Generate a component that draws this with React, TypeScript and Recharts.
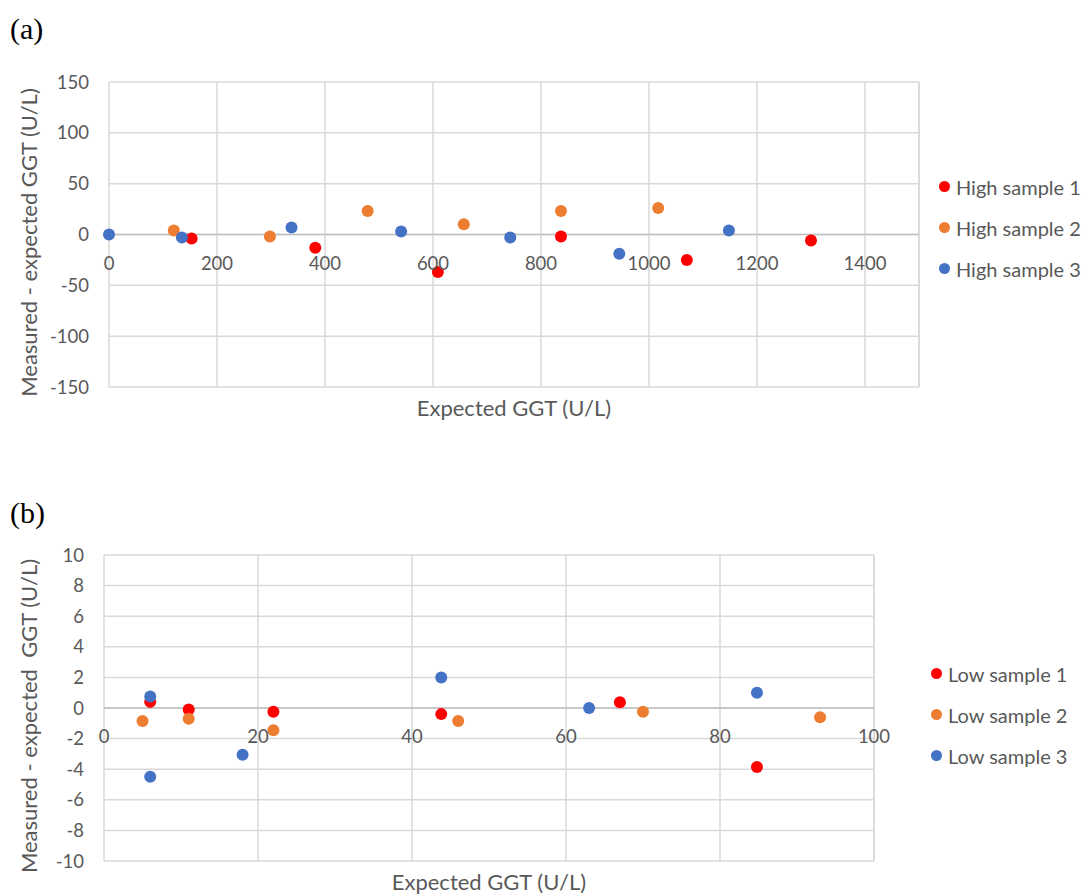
import React from "react";
import {
  CartesianGrid,
  Label,
  ReferenceLine,
  Scatter,
  ScatterChart,
  XAxis,
  YAxis,
} from "recharts";

// expected GGT (x) and measured - expected (y), high range
const HIGH1_X = [153, 382, 609, 837, 1070, 1300];
const HIGH1_Y = [-4, -13, -37, -2, -25, -6];
const HIGH2_X = [120, 298, 479, 657, 837, 1017];
const HIGH2_Y = [4, -2, 23, 10, 23, 26];
const HIGH3_X = [0, 135, 338, 541, 743, 945, 1148];
const HIGH3_Y = [0, -3, 7, 3, -3, -19, 4];

// low range
const LOW1_X = [6, 11, 22, 43.8, 67, 84.8];
const LOW1_Y = [0.4, -0.1, -0.25, -0.4, 0.37, -3.85];
const LOW2_X = [5, 11, 22, 46, 70, 93];
const LOW2_Y = [-0.85, -0.7, -1.45, -0.85, -0.25, -0.6];
const LOW3_X = [6, 6, 18, 43.8, 63, 84.8];
const LOW3_Y = [0.75, -4.5, -3.05, 2.0, 0, 1.0];

const HIGH_X_TICKS = [0, 200, 400, 600, 800, 1000, 1200, 1400];
const HIGH_Y_TICKS = [-150, -100, -50, 0, 50, 100, 150];
const LOW_X_TICKS = [0, 20, 40, 60, 80, 100];
const LOW_Y_TICKS = [-10, -8, -6, -4, -2, 0, 2, 4, 6, 8, 10];

const RED = "#FF0000";
const ORANGE = "#ED7D31";
const BLUE = "#4472C4";
const GRID = "#D9D9D9";
const ZERO_LINE = "#BFBFBF";
const TEXT = "#595959";
const FONT = "Lato, 'Open Sans', sans-serif";

const toPoints = (xs: number[], ys: number[]) => xs.map((x, i) => ({ x, y: ys[i] }));

const dot = (color: string) => (props: any) =>
  <circle cx={props.cx} cy={props.cy} r={6} fill={color} />;

interface SeriesDef {
  name: string;
  color: string;
  data: { x: number; y: number }[];
}

interface PanelProps {
  top: number;
  height: number;
  marginTop: number;
  axisLeft: number;
  marginRight: number;
  xAxisHeight: number;
  xDomain: [number, number];
  yDomain: [number, number];
  xTicks: number[];
  yTicks: number[];
  yTitle: string;
  series: SeriesDef[];
  legendX: number;
  legendY: number;
}

function Panel(p: PanelProps) {
  const plotHeight = p.height - p.marginTop - p.xAxisHeight;
  // distance from plot bottom up to the y=0 line, where Excel puts the x labels
  const zeroShift = (plotHeight * (0 - p.yDomain[0])) / (p.yDomain[1] - p.yDomain[0]);

  const XTick = ({ x, y, payload }: any) => (
    <text
      x={x}
      y={y - zeroShift + 28}
      textAnchor="middle"
      dominantBaseline="central"
      fill={TEXT}
      fontSize={18.5}
      fontFamily={FONT}
    >
      {payload.value}
    </text>
  );

  const XTitle = ({ viewBox }: any) => (
    <text
      x={viewBox.x + viewBox.width / 2}
      y={viewBox.y + 20}
      textAnchor="middle"
      dominantBaseline="central"
      fill={TEXT}
      fontSize={22}
      fontFamily={FONT}
    >
      Expected GGT (U/L)
    </text>
  );

  const YTitle = ({ viewBox }: any) => {
    const cx = viewBox.x + 28;
    const cy = viewBox.y + viewBox.height / 2 + 8;
    return (
      <text
        x={cx}
        y={cy}
        transform={`rotate(-90 ${cx} ${cy})`}
        textAnchor="middle"
        dominantBaseline="central"
        fill={TEXT}
        fontSize={22}
        fontFamily={FONT}
        style={{ whiteSpace: "pre" }}
      >
        {p.yTitle}
      </text>
    );
  };

  return (
    <div style={{ position: "absolute", left: 0, top: p.top, width: 1088, height: p.height }}>
      <ScatterChart
        width={1088}
        height={p.height}
        margin={{ top: p.marginTop, right: p.marginRight, left: 0, bottom: 0 }}
      >
        <CartesianGrid stroke={GRID} strokeWidth={1.5} />
        <XAxis
          type="number"
          dataKey="x"
          domain={p.xDomain}
          ticks={p.xTicks}
          height={p.xAxisHeight}
          axisLine={false}
          tickLine={false}
          tickSize={0}
          tickMargin={0}
          tick={<XTick />}
          interval={0}
        >
          <Label content={<XTitle />} />
        </XAxis>
        <YAxis
          type="number"
          dataKey="y"
          domain={p.yDomain}
          ticks={p.yTicks}
          width={p.axisLeft}
          axisLine={false}
          tickLine={false}
          tickSize={0}
          tickMargin={20}
          interval={0}
          tick={{ fill: TEXT, fontSize: 18.5, fontFamily: FONT }}
        >
          <Label content={<YTitle />} />
        </YAxis>
        <ReferenceLine x={p.xDomain[1]} stroke={GRID} strokeWidth={1.5} />
        <ReferenceLine y={0} stroke={ZERO_LINE} strokeWidth={1.5} />
        {p.series.map((s) => (
          <Scatter
            key={s.name}
            name={s.name}
            data={s.data}
            fill={s.color}
            shape={dot(s.color)}
            isAnimationActive={false}
          />
        ))}
      </ScatterChart>
      <div style={{ position: "absolute", left: p.legendX, top: p.legendY }}>
        {p.series.map((s) => (
          <div
            key={s.name}
            style={{
              display: "flex",
              alignItems: "center",
              height: 41,
              fontFamily: FONT,
              fontSize: 20,
              color: TEXT,
              whiteSpace: "nowrap",
            }}
          >
            <span
              style={{
                width: 11,
                height: 11,
                borderRadius: "50%",
                background: s.color,
                marginRight: 6,
                display: "inline-block",
              }}
            />
            {s.name}
          </div>
        ))}
      </div>
    </div>
  );
}

const panelLabel: React.CSSProperties = {
  position: "absolute",
  left: 10,
  fontFamily: "'Liberation Serif', 'Times New Roman', serif",
  fontSize: 30,
  lineHeight: 1,
  color: "#000",
};

export default function App() {
  return (
    <div
      style={{
        position: "absolute",
        left: 0,
        top: 0,
        width: 1088,
        height: 894,
        background: "#fff",
        overflow: "hidden",
      }}
    >
      <div style={{ ...panelLabel, top: 14 }}>(a)</div>
      <Panel
        top={60}
        height={370}
        marginTop={22}
        axisLeft={109}
        marginRight={169}
        xAxisHeight={43}
        xDomain={[0, 1500]}
        yDomain={[-150, 150]}
        xTicks={HIGH_X_TICKS}
        yTicks={HIGH_Y_TICKS}
        yTitle="Measured - expected GGT (U/L)"
        series={[
          { name: "High sample 1", color: RED, data: toPoints(HIGH1_X, HIGH1_Y) },
          { name: "High sample 2", color: ORANGE, data: toPoints(HIGH2_X, HIGH2_Y) },
          { name: "High sample 3", color: BLUE, data: toPoints(HIGH3_X, HIGH3_Y) },
        ]}
        legendX={939}
        legendY={106}
      />
      <div style={{ ...panelLabel, top: 498 }}>(b)</div>
      <Panel
        top={533}
        height={361}
        marginTop={22}
        axisLeft={104}
        marginRight={214}
        xAxisHeight={33}
        xDomain={[0, 100]}
        yDomain={[-10, 10]}
        xTicks={LOW_X_TICKS}
        yTicks={LOW_Y_TICKS}
        yTitle="Measured - expected  GGT (U/L)"
        series={[
          { name: "Low sample 1", color: RED, data: toPoints(LOW1_X, LOW1_Y) },
          { name: "Low sample 2", color: ORANGE, data: toPoints(LOW2_X, LOW2_Y) },
          { name: "Low sample 3", color: BLUE, data: toPoints(LOW3_X, LOW3_Y) },
        ]}
        legendX={931}
        legendY={120}
      />
    </div>
  );
}
